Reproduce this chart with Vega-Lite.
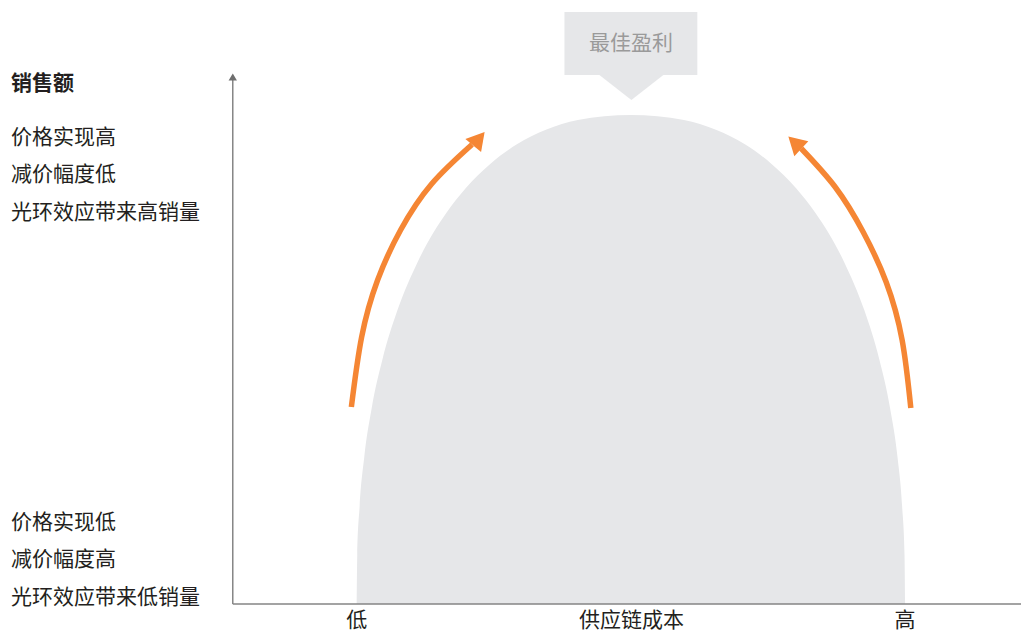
{
  "$schema": "https://vega.github.io/schema/vega-lite/v6.json",
  "width": 1022,
  "height": 632,
  "autosize": {"type": "fit", "contains": "padding"},
  "padding": 0,
  "background": "white",
  "config": {"view": {"stroke": null}},
  "datasets": {
    "curve": [
      {"x": 357, "y": 28}, {"x": 357.6, "y": 76.9}, {"x": 360, "y": 125.8}, {"x": 364.6, "y": 174.7},
      {"x": 372, "y": 223.6}, {"x": 382.8, "y": 272.5}, {"x": 397.7, "y": 321.4}, {"x": 418.2, "y": 370.3},
      {"x": 446.9, "y": 419.2}, {"x": 466.1, "y": 443.7}, {"x": 490.7, "y": 468.1}, {"x": 517.4, "y": 487.7},
      {"x": 546.4, "y": 502.3}, {"x": 578.4, "y": 512.1}, {"x": 631.5, "y": 517},
      {"x": 684.6, "y": 512.1}, {"x": 716.6, "y": 502.3}, {"x": 745.6, "y": 487.7}, {"x": 772.3, "y": 468.1},
      {"x": 796.9, "y": 443.7}, {"x": 816.1, "y": 419.2}, {"x": 844.8, "y": 370.3}, {"x": 865.3, "y": 321.4},
      {"x": 880.2, "y": 272.5}, {"x": 891, "y": 223.6}, {"x": 898.4, "y": 174.7}, {"x": 903, "y": 125.8},
      {"x": 905.4, "y": 76.9}, {"x": 906, "y": 28}
    ],
    "arrows": [
      {"id": "left", "x": 351.7, "y": 225}, {"id": "left", "x": 362, "y": 295}, {"id": "left", "x": 378, "y": 352},
      {"id": "left", "x": 401, "y": 402}, {"id": "left", "x": 432, "y": 448},
      {"id": "left", "x": 472.5, "y": 487.5},
      {"id": "right", "x": 911.7, "y": 224}, {"id": "right", "x": 903, "y": 292}, {"id": "right", "x": 887, "y": 350},
      {"id": "right", "x": 864, "y": 400}, {"id": "right", "x": 836, "y": 445},
      {"id": "right", "x": 802, "y": 483.5}
    ],
    "heads": [
      {"id": "left", "x": 479.4, "y": 493.3, "angle": 40},
      {"id": "right", "x": 795.6, "y": 489.4, "angle": 313}
    ],
    "pointer": [
      {"x": 600, "y": 557}, {"x": 632, "y": 532}, {"x": 664, "y": 557}
    ],
    "box": [{"x": 565, "x2": 698, "y": 557, "y2": 620}],
    "axisLines": [
      {"x": 233, "x2": 233, "y": 28, "y2": 552},
      {"x": 233, "x2": 1022, "y": 28, "y2": 28}
    ],
    "axisHead": [{"x": 233, "y": 555}],
    "leftLabels": [
      {"label": "价格实现高", "x": 11, "y": 494},
      {"label": "减价幅度低", "x": 11, "y": 457},
      {"label": "光环效应带来高销量", "x": 11, "y": 419},
      {"label": "价格实现低", "x": 11, "y": 109},
      {"label": "减价幅度高", "x": 11, "y": 72},
      {"label": "光环效应带来低销量", "x": 11, "y": 34}
    ],
    "title": [{"label": "销售额", "x": 11, "y": 548}],
    "xLabels": [
      {"label": "低", "x": 357, "y": 11},
      {"label": "供应链成本", "x": 632, "y": 11},
      {"label": "高", "x": 906, "y": 11}
    ],
    "callout": [{"label": "最佳盈利", "x": 631.5, "y": 588}]
  },
  "layer": [
    {
      "data": {"name": "curve"},
      "mark": {"type": "area", "interpolate": "monotone", "color": "#e6e7e9"},
      "encoding": {
        "x": {"field": "x", "type": "quantitative", "scale": {"domain": [0, 1022], "nice": false, "zero": false}, "axis": null},
        "y": {"field": "y", "type": "quantitative", "scale": {"domain": [0, 632], "nice": false, "zero": false}, "axis": null},
        "y2": {"datum": 28}
      }
    },
    {
      "data": {"name": "box"},
      "mark": {"type": "rect", "color": "#e6e7e9"},
      "encoding": {
        "x": {"field": "x", "type": "quantitative"},
        "x2": {"field": "x2"},
        "y": {"field": "y", "type": "quantitative"},
        "y2": {"field": "y2"}
      }
    },
    {
      "data": {"name": "pointer"},
      "mark": {"type": "area", "interpolate": "linear", "color": "#e6e7e9"},
      "encoding": {
        "x": {"field": "x", "type": "quantitative"},
        "y": {"field": "y", "type": "quantitative"},
        "y2": {"datum": 557}
      }
    },
    {
      "data": {"name": "axisLines"},
      "mark": {"type": "rule", "color": "#858585", "strokeWidth": 1.5},
      "encoding": {
        "x": {"field": "x", "type": "quantitative"},
        "x2": {"field": "x2"},
        "y": {"field": "y", "type": "quantitative"},
        "y2": {"field": "y2"}
      }
    },
    {
      "data": {"name": "axisHead"},
      "mark": {"type": "point", "shape": "triangle-up", "filled": true, "color": "#6e6e6e", "size": 70, "opacity": 1},
      "encoding": {
        "x": {"field": "x", "type": "quantitative"},
        "y": {"field": "y", "type": "quantitative"}
      }
    },
    {
      "data": {"name": "arrows"},
      "mark": {"type": "line", "interpolate": "natural", "color": "#f58634", "strokeWidth": 5.5},
      "encoding": {
        "x": {"field": "x", "type": "quantitative"},
        "y": {"field": "y", "type": "quantitative"},
        "detail": {"field": "id"}
      }
    },
    {
      "data": {"name": "heads"},
      "mark": {"type": "point", "shape": "triangle-up", "filled": true, "color": "#f58634", "size": 420, "opacity": 1},
      "encoding": {
        "x": {"field": "x", "type": "quantitative"},
        "y": {"field": "y", "type": "quantitative"},
        "angle": {"field": "angle", "type": "quantitative", "scale": null}
      }
    },
    {
      "data": {"name": "leftLabels"},
      "mark": {"type": "text", "align": "left", "baseline": "middle", "font": "Noto Sans CJK SC", "fontSize": 21, "color": "#231f20"},
      "encoding": {
        "x": {"field": "x", "type": "quantitative"},
        "y": {"field": "y", "type": "quantitative"},
        "text": {"field": "label"}
      }
    },
    {
      "data": {"name": "title"},
      "mark": {"type": "text", "align": "left", "baseline": "middle", "font": "Noto Sans CJK SC", "fontSize": 21, "fontWeight": "bold", "color": "#231f20"},
      "encoding": {
        "x": {"field": "x", "type": "quantitative"},
        "y": {"field": "y", "type": "quantitative"},
        "text": {"field": "label"}
      }
    },
    {
      "data": {"name": "xLabels"},
      "mark": {"type": "text", "align": "center", "baseline": "middle", "font": "Noto Sans CJK SC", "fontSize": 21, "color": "#231f20"},
      "encoding": {
        "x": {"field": "x", "type": "quantitative"},
        "y": {"field": "y", "type": "quantitative"},
        "text": {"field": "label"}
      }
    },
    {
      "data": {"name": "callout"},
      "mark": {"type": "text", "align": "center", "baseline": "middle", "font": "Noto Sans CJK SC", "fontSize": 21, "color": "#9a9a9a"},
      "encoding": {
        "x": {"field": "x", "type": "quantitative"},
        "y": {"field": "y", "type": "quantitative"},
        "text": {"field": "label"}
      }
    }
  ]
}
